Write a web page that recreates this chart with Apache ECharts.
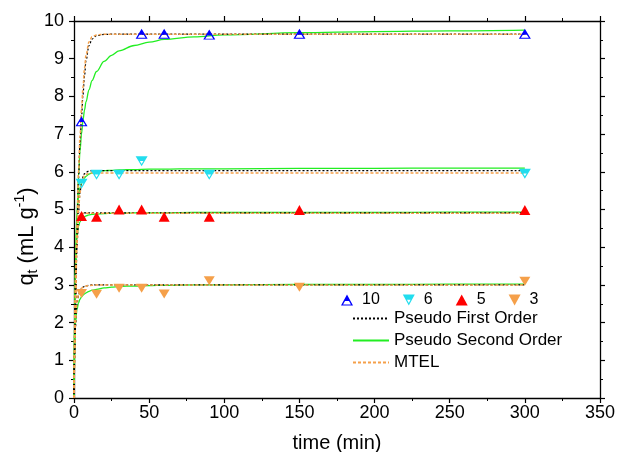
<!DOCTYPE html>
<html>
<head>
<meta charset="utf-8">
<script src="https://cdn.jsdelivr.net/npm/echarts@6/dist/echarts.min.js"></script>
<style>html,body{margin:0;padding:0;background:#fff}#c{width:617px;height:452px}</style>
</head>
<body>
<div id="c"></div>
<script>
// Experimental data (time in min, q_t in mL/g)
const time10 = [5, 45, 60, 90, 150, 300];
const q10 = [7.34, 9.66, 9.66, 9.64, 9.66, 9.66];
const time6 = [5, 15, 30, 45, 90, 300];
const q6 = [5.68, 5.92, 5.92, 6.28, 5.92, 5.95];
const time5 = [5, 15, 30, 45, 60, 90, 150, 300];
const q5 = [4.83, 4.81, 5.0, 5.0, 4.81, 4.81, 4.99, 4.99];
const time3 = [5, 15, 30, 45, 60, 90, 150, 300];
const q3 = [2.77, 2.75, 2.91, 2.91, 2.76, 3.11, 2.94, 3.10];

// Fitted curves, values
const fitTime = [0, 1, 2, 3, 4, 5, 6, 7, 8, 10, 12, 15, 20, 25, 30, 40, 50, 60, 80, 100, 150, 200, 250, 300];
const pfo10 = [0, 2.5, 4.4, 5.8, 6.75, 7.45, 8.05, 8.55, 8.95, 9.35, 9.52, 9.61, 9.645, 9.65, 9.65, 9.65, 9.65, 9.65, 9.65, 9.65, 9.65, 9.65, 9.65, 9.65];
const mtel10 = [0, 2.6, 4.6, 6.0, 6.95, 7.65, 8.25, 8.75, 9.1, 9.45, 9.58, 9.63, 9.65, 9.65, 9.65, 9.65, 9.65, 9.65, 9.65, 9.65, 9.65, 9.65, 9.65, 9.65];
const pso10 = [0, 3.27, 4.91, 5.89, 6.55, 7.01, 7.37, 7.64, 7.86, 8.18, 8.42, 8.66, 8.93, 9.09, 9.21, 9.35, 9.44, 9.51, 9.58, 9.63, 9.69, 9.72, 9.74, 9.76];
const pfo6 = [0, 2.5, 4.0, 4.9, 5.45, 5.72, 5.87, 5.95, 5.99, 6.02, 6.03, 6.03, 6.03, 6.03, 6.03, 6.03, 6.03, 6.03, 6.03, 6.03, 6.03, 6.03, 6.03, 6.03];
const mtel6 = [0, 2.6, 4.1, 4.95, 5.45, 5.7, 5.83, 5.9, 5.93, 5.96, 5.97, 5.97, 5.97, 5.97, 5.97, 5.97, 5.97, 5.97, 5.97, 5.97, 5.97, 5.97, 5.97, 5.97];
const pso6 = [0, 3.8, 4.9, 5.35, 5.58, 5.7, 5.78, 5.84, 5.88, 5.94, 5.97, 6.0, 6.03, 6.04, 6.05, 6.06, 6.07, 6.07, 6.08, 6.08, 6.09, 6.09, 6.1, 6.1];
const pfo5 = [0, 3.2, 4.3, 4.7, 4.85, 4.89, 4.9, 4.91, 4.91, 4.91, 4.91, 4.91, 4.91, 4.91, 4.91, 4.91, 4.91, 4.91, 4.91, 4.91, 4.91, 4.91, 4.91, 4.91];
const mtel5 = [0, 3.3, 4.35, 4.72, 4.85, 4.89, 4.9, 4.9, 4.9, 4.9, 4.9, 4.9, 4.9, 4.9, 4.9, 4.9, 4.9, 4.9, 4.9, 4.9, 4.9, 4.9, 4.9, 4.9];
const pso5 = [0, 3.6, 4.3, 4.55, 4.67, 4.74, 4.78, 4.81, 4.83, 4.86, 4.87, 4.88, 4.89, 4.9, 4.9, 4.91, 4.91, 4.91, 4.92, 4.92, 4.92, 4.92, 4.93, 4.93];
const pfo3 = [0, 1.9, 2.5, 2.72, 2.84, 2.9, 2.94, 2.96, 2.97, 2.99, 3.0, 3.0, 3.0, 3.0, 3.0, 3.0, 3.0, 3.0, 3.0, 3.0, 3.0, 3.0, 3.0, 3.0];
const mtel3 = [0, 2.0, 2.55, 2.75, 2.85, 2.91, 2.94, 2.96, 2.97, 2.98, 2.99, 3.0, 3.0, 3.0, 3.0, 3.0, 3.0, 3.0, 3.0, 3.0, 3.0, 3.0, 3.0, 3.0];
const pso3 = [0, 2.0, 2.35, 2.52, 2.62, 2.68, 2.73, 2.76, 2.79, 2.83, 2.86, 2.88, 2.92, 2.94, 2.96, 2.97, 2.98, 2.99, 3.0, 3.0, 3.01, 3.01, 3.02, 3.02];

const scatterNames = ['10', '6', '5', '3'];
const fitNames = ['Pseudo First Order', 'Pseudo Second Order', 'MTEL'];

const FONT = 'Liberation Sans, Arial, Helvetica, sans-serif';
const UP_HALF = 'path://M10,0 L20,18 L0,18 Z M6.7,10.5 L3.4,16.3 L16.6,16.3 L13.3,10.5 Z';
const DOWN_HALF = 'path://M0,0 L20,0 L10,18 Z M7.0,8.5 L10,13.8 L13.0,8.5 Z';
const UP_FULL = 'path://M10,0 L20,18 L0,18 Z';
const DOWN_FULL = 'path://M0,0 L20,0 L10,18 Z';

function pairs(xs, ys) { return xs.map((x, i) => [x, ys[i]]); }

const series = [];
const fits = [
  [pfo10, mtel10, pso10],
  [pfo6, mtel6, pso6],
  [pfo5, mtel5, pso5],
  [pfo3, mtel3, pso3]
];
fits.forEach(f => {
  series.push({
    name: fitNames[1], type: 'line', symbol: 'none', smooth: 0.35, smoothMonotone: 'x',
    data: pairs(fitTime, f[2]), lineStyle: { color: '#22EE22', width: 1.3, type: 'solid' },
    itemStyle: { color: '#22EE22' }, z: 3
  });
  series.push({
    name: fitNames[0], type: 'line', symbol: 'none', smooth: 0.35, smoothMonotone: 'x',
    data: pairs(fitTime, f[0]), lineStyle: { color: '#000000', width: 1.2, type: [2, 2] },
    itemStyle: { color: '#000000' }, z: 4
  });
  series.push({
    name: fitNames[2], type: 'line', symbol: 'none', smooth: 0.35, smoothMonotone: 'x',
    data: pairs(fitTime, f[1]), lineStyle: { color: '#F5A04A', width: 1.5, type: [3, 2] },
    itemStyle: { color: '#F5A04A' }, z: 5
  });
});

series.push({
  name: '10', type: 'scatter', data: pairs(time10, q10), symbol: UP_HALF, symbolSize: [12, 10],
  itemStyle: { color: '#0000FF', opacity: 1 }, z: 10
});
series.push({
  name: '6', type: 'scatter', data: pairs(time6, q6), symbol: DOWN_HALF, symbolSize: [12, 10],
  itemStyle: { color: '#22DDEE', opacity: 1 }, z: 10
});
series.push({
  name: '5', type: 'scatter', data: pairs(time5, q5), symbol: UP_FULL, symbolSize: [11, 10],
  itemStyle: { color: '#FF0000', opacity: 1 }, z: 10
});
series.push({
  name: '3', type: 'scatter', data: pairs(time3, q3), symbol: DOWN_FULL, symbolSize: [11, 9],
  itemStyle: { color: '#F5A04A', opacity: 1 }, z: 10
});

const axisCommon = {
  axisLine: { show: true, onZero: false, lineStyle: { color: '#000', width: 1.3 } },
  axisTick: { show: true, inside: false, length: 5, lineStyle: { color: '#000', width: 1.2 } },
  minorTick: { show: true, splitNumber: 2, length: 3, lineStyle: { color: '#000', width: 1 } },
  splitLine: { show: false },
  minorSplitLine: { show: false }
};

const option = {
  backgroundColor: '#ffffff',
  animation: false,
  grid: { left: 74, right: 17, top: 21, bottom: 54, containLabel: false, outerBoundsMode: 'none' },
  xAxis: [
    Object.assign({
      type: 'value', min: 0, max: 350, interval: 50, position: 'bottom',
      name: 'time (min)', nameLocation: 'middle', nameGap: 35, nameMoveOverlap: false,
      nameTextStyle: { fontSize: 20, fontFamily: FONT, color: '#000' },
      axisLabel: { fontSize: 18, fontFamily: FONT, color: '#000', margin: 6 }
    }, axisCommon),
    Object.assign({
      type: 'value', min: 0, max: 350, interval: 50, position: 'top',
      axisLabel: { show: false }
    }, axisCommon)
  ],
  yAxis: [
    Object.assign({
      type: 'value', min: 0, max: 10, interval: 1, position: 'left',
      name: '{n|q}{s|t}{n| (mL g}{p|-1}{n|)}', nameLocation: 'middle', nameGap: 34, nameRotate: 90,
      nameMoveOverlap: false,
      nameTextStyle: {
        fontSize: 22, fontFamily: FONT, color: '#000', padding: [0, 54, 0, 0],
        rich: {
          n: { fontSize: 22, fontFamily: FONT, color: '#000', lineHeight: 27 },
          s: { fontSize: 14, fontFamily: FONT, color: '#000', verticalAlign: 'bottom', lineHeight: 27, padding: [8, 0, 0, 0] },
          p: { fontSize: 14, fontFamily: FONT, color: '#000', verticalAlign: 'top', lineHeight: 27, padding: [0, 0, 10, 0] }
        }
      },
      axisLabel: { fontSize: 18, fontFamily: FONT, color: '#000', margin: 10 }
    }, axisCommon),
    Object.assign({
      type: 'value', min: 0, max: 10, interval: 1, position: 'right',
      axisLabel: { show: false }
    }, axisCommon)
  ],
  legend: [
    {
      data: scatterNames, orient: 'horizontal', left: 341, top: 292, padding: 0,
      itemWidth: 12, itemHeight: 11, itemGap: 23,
      textStyle: { fontSize: 16, fontFamily: FONT, color: '#000', padding: [0, 0, 0, 4] }
    },
    {
      data: fitNames, orient: 'vertical', left: 352, top: 310, padding: 0,
      itemWidth: 36, itemHeight: 17, itemGap: 5,
      itemStyle: { opacity: 0 },
      textStyle: { fontSize: 17, fontFamily: FONT, color: '#000', lineHeight: 17 }
    }
  ],
  series: series
};

const chart = echarts.init(document.getElementById('c'), null, { renderer: 'canvas' });
chart.setOption(option);
</script>
</body>
</html>
